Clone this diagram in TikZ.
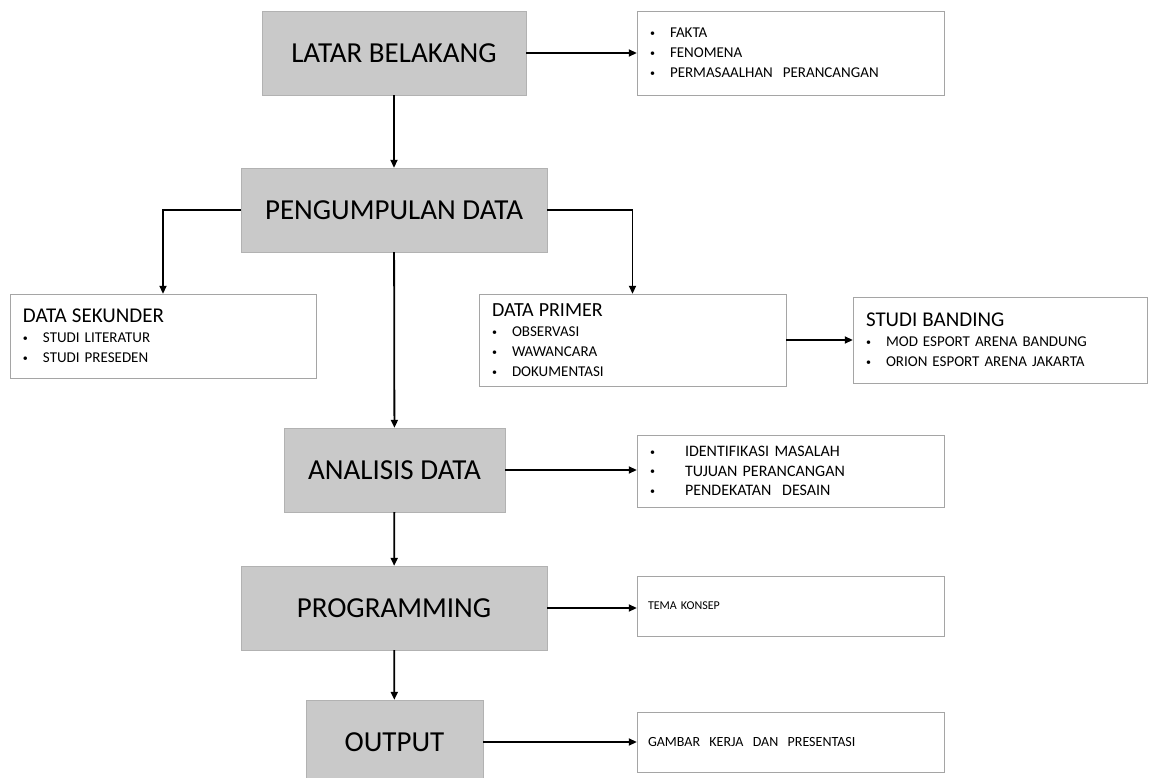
\documentclass[tikz,border=0pt]{standalone}
\usepackage{fontspec}
\setmainfont{Carlito}
\usetikzlibrary{arrows.meta}
\definecolor{boxgray}{RGB}{201,201,201}
\definecolor{edgegray}{RGB}{178,178,178}
\definecolor{linegray}{RGB}{165,165,165}
\tikzset{
phase/.style={
	  draw=edgegray, fill=boxgray, minimum height=84pt, inner sep=0pt,
	    font=\fontsize{29}{34}\selectfont},
notebox/.style={
	  draw=linegray, fill=white, align=left, inner xsep=13pt, inner ysep=0pt,
	    font=\fontsize{15}{20}\selectfont},
flow/.style={-{Triangle[length=8pt,width=7pt]}, line width=1.8pt}
}
\newcommand{\itm}[1][20pt]{\makebox[#1][l]{\raisebox{0.15ex}{\fontsize{10}{10}\selectfont\textbullet}}}
\newcommand{\head}[1]{{\fontsize{21}{24}\selectfont #1}}

\begin{document}
\begin{tikzpicture}[x=1pt, y=-1pt]
	\path[use as bounding box] (0,0) rectangle (1149,778);
	% main steps
	\node[phase, minimum width=264pt] (latar) at (394,53) {LATAR BELAKANG};
	\node[phase, minimum width=306pt] (kumpul) at (394,210) {PENGUMPULAN DATA};
	\node[phase, minimum width=221pt] (analisis) at (394.5,470) {ANALISIS DATA};
	\node[phase, minimum width=306pt] (prog) at (394,608) {PROGRAMMING};
	\node[phase, minimum width=177pt] (output) at (394.5,742) {OUTPUT};
	% side notes
	\node[notebox, text width=281pt, minimum height=84pt] (latarnote) at (790.5,53)
		{\itm FAKTA\\ \itm FENOMENA\\ \itm PERMASAALHAN\ \ PERANCANGAN};
	\node[notebox, text width=280pt, minimum height=84pt] (sekunder) at (163,336)
		{\head{DATA SEKUNDER}\\ \itm STUDI\ LITERATUR\\ \itm STUDI\ PRESEDEN};
	\node[notebox, text width=281pt, minimum height=92pt] (primer) at (632.5,340)
		{{\fontsize{20}{22}\selectfont DATA PRIMER}\\ \itm OBSERVASI\\ \itm WAWANCARA\\ \itm DOKUMENTASI};
	\node[notebox, text width=268pt, minimum height=86pt] (banding) at (1000,340)
		{\head{STUDI BANDING}\\ \itm MOD ESPORT ARENA\ BANDUNG\\ \itm ORION ESPORT ARENA JAKARTA};
	\node[notebox, text width=281pt, minimum height=72pt, font=\fontsize{16}{19.5}\selectfont] (analisisnote) at (790.5,471)
		{\itm[35pt]IDENTIFIKASI MASALAH\\ \itm[35pt]TUJUAN\ PERANCANGAN\\ \itm[35pt]PENDEKATAN\ \ DESAIN};
	\node[notebox, text width=285pt, inner xsep=11pt, minimum height=60pt,
		font=\fontsize{12}{14}\selectfont] (tema) at (790.5,606) {TEMA\ KONSEP};
	\node[notebox, text width=285pt, inner xsep=11pt, minimum height=60pt,
		font=\fontsize{14}{16}\selectfont] (gambar) at (790.5,742) {GAMBAR\ \ KERJA\ \ DAN\ \ PRESENTASI};
	% connectors
	\draw[flow] (latar) -- (latarnote);
	\draw[flow] (latar) -- (kumpul);
	\draw[flow] (kumpul.west) -| (sekunder.north);
	\draw[flow] (kumpul.east) -| (primer.north);
	\draw[flow] (kumpul) -- (analisis);
	\draw[flow] (primer) -- (banding);
	\draw[flow] (analisis) -- (analisisnote.west |- analisis);
	\draw[flow] (analisis) -- (prog);
	\draw[flow] (prog) -- (tema.west |- prog);
	\draw[flow] (prog) -- (output);
	\draw[flow] (output) -- (gambar);
\end{tikzpicture}
\end{document}
